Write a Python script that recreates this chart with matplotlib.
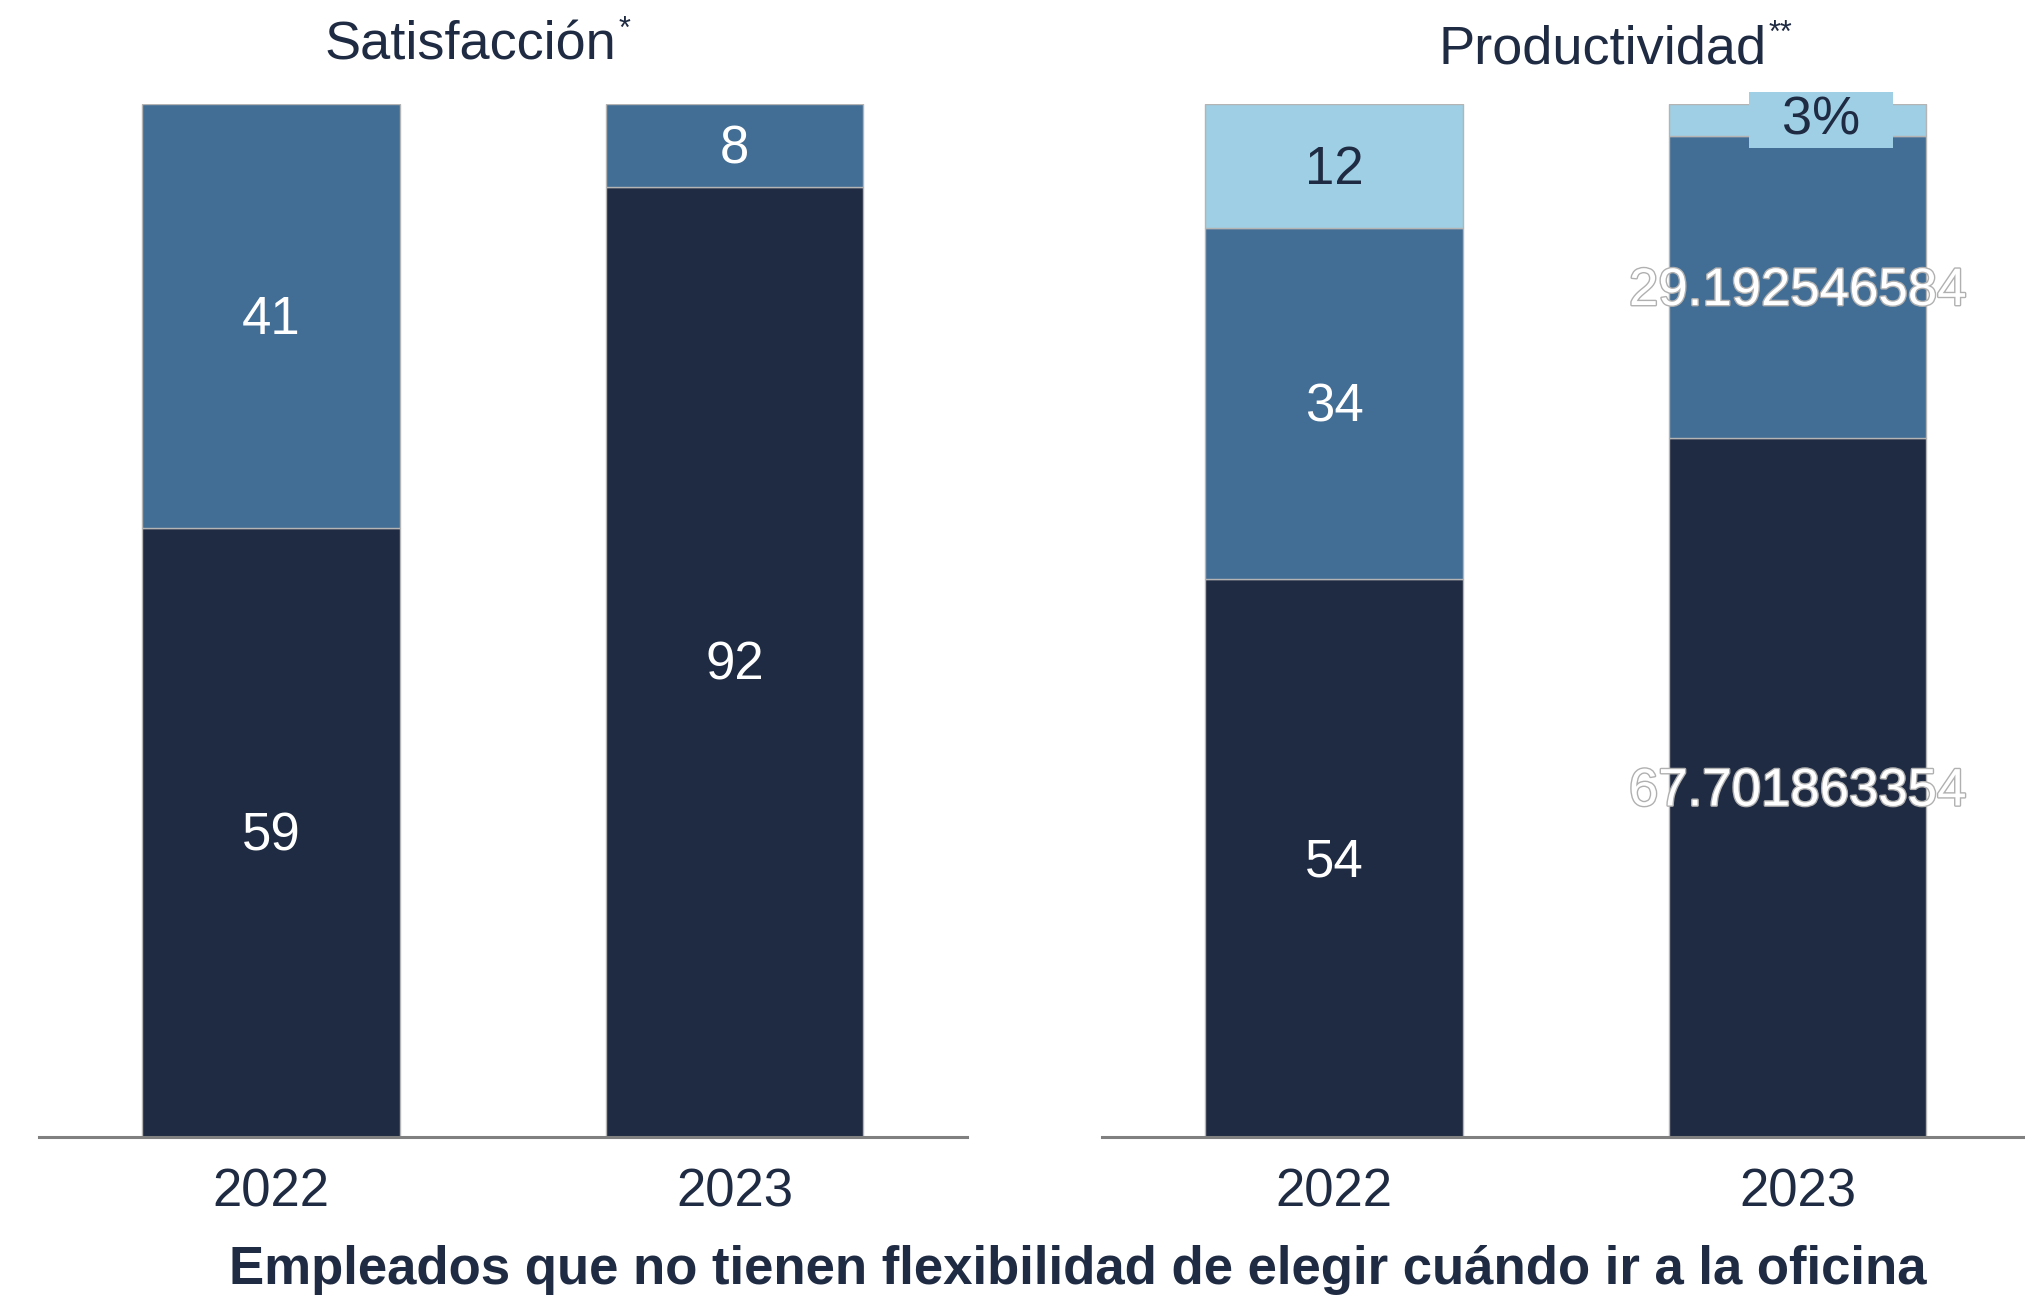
import matplotlib
matplotlib.use("Agg")
import matplotlib.pyplot as plt
import matplotlib.patheffects as pe
from matplotlib.transforms import offset_copy

plt.rcParams['font.family'] = ['Liberation Sans', 'DejaVu Sans']

years = ['2022', '2023']

# Satisfaccion
sat_dark = [59, 92]
sat_mid = [41, 8]
sat_dark_lbl = ['59', '92']
sat_mid_lbl = ['41', '8']

# Productividad
prod_dark = [54, 67.701863354]
prod_mid = [34, 29.192546584]
prod_light = [12, 3.105590062]
prod_dark_lbl = ['54', '67.701863354']
prod_mid_lbl = ['34', '29.192546584']
prod_light_lbl = ['12', '3%']

DARK = '#1f2b42'
MID = '#426d95'
LIGHT = '#9ecfe4'
EDGE = '#b4b4b4'
TXT = '#1f2b42'

fig = plt.figure(figsize=(20.25, 12.97), dpi=100)
ax1 = fig.add_axes([0.0193, 0.1234, 0.458, 0.7964])
ax2 = fig.add_axes([0.5442, 0.1234, 0.4558, 0.7964])

x = range(len(years))
w = 0.555
outline = [pe.withStroke(linewidth=2, foreground='#b0b0b0')]


def style(ax, xmax):
    ax.set_xlim(-0.5, xmax)
    ax.set_ylim(0, 100)
    for s in ['top', 'right', 'left']:
        ax.spines[s].set_visible(False)
    ax.spines['bottom'].set_color('#808080')
    ax.spines['bottom'].set_linewidth(2.2)
    ax.set_yticks([])
    ax.set_xticks(list(x))
    ax.set_xticklabels(years, fontsize=38, color=TXT)
    ax.tick_params(axis='x', length=0, pad=22)


def lbl(ax, xi, y, s, color='white', **kw):
    # labels sit a touch below the exact segment middle
    tr = offset_copy(ax.transData, fig=fig, x=0, y=-3, units='points')
    return ax.text(xi, y, s, ha='center', va='center', fontsize=38,
                   color=color, transform=tr, **kw)


# left panel
ax1.bar(x, sat_dark, w, color=DARK, edgecolor=EDGE, linewidth=1)
ax1.bar(x, sat_mid, w, bottom=sat_dark, color=MID, edgecolor=EDGE, linewidth=1)
for i in x:
    lbl(ax1, i, sat_dark[i] / 2, sat_dark_lbl[i])
    lbl(ax1, i, sat_dark[i] + sat_mid[i] / 2, sat_mid_lbl[i])
style(ax1, 1.5)

# right panel
bot2 = [d + m for d, m in zip(prod_dark, prod_mid)]
ax2.bar(x, prod_dark, w, color=DARK, edgecolor=EDGE, linewidth=1)
ax2.bar(x, prod_mid, w, bottom=prod_dark, color=MID, edgecolor=EDGE, linewidth=1)
ax2.bar(x, prod_light, w, bottom=bot2, color=LIGHT, edgecolor=EDGE, linewidth=1)
for i in x:
    t1 = lbl(ax2, i, prod_dark[i] / 2, prod_dark_lbl[i])
    t2 = lbl(ax2, i, prod_dark[i] + prod_mid[i] / 2, prod_mid_lbl[i])
    if i == 1:
        t1.set_path_effects(outline)
        t2.set_path_effects(outline)
lbl(ax2, 0, bot2[0] + prod_light[0] / 2, prod_light_lbl[0], color=TXT)
ax2.text(1.05, bot2[1] + prod_light[1] / 2, '  ' + prod_light_lbl[1] + '  ',
         ha='center', va='center', fontsize=39, color=TXT, zorder=5,
         bbox=dict(boxstyle='square,pad=0.06', facecolor=LIGHT, edgecolor='none'))
style(ax2, 1.49)

# titles with small superscript stars
fig.canvas.draw()
rend = fig.canvas.get_renderer()
for xc, yc, s, star in [(0.2325, 0.965, 'Satisfacción', '*'),
                        (0.7915, 0.962, 'Productividad', '**')]:
    t = fig.text(xc, yc, s, ha='center', va='center', fontsize=39, color=TXT)
    bb = t.get_window_extent(renderer=rend).transformed(fig.transFigure.inverted())
    fig.text(bb.x1 + 0.001, bb.y1 + 0.004, star, ha='left', va='top',
             fontsize=22, color=TXT)

fig.text(0.532, 0.021,
         'Empleados que no tienen flexibilidad de elegir cuándo ir a la oficina',
         ha='center', va='center', fontsize=38, fontweight='bold', color=TXT)

fig.savefig('out.png', dpi=100)
